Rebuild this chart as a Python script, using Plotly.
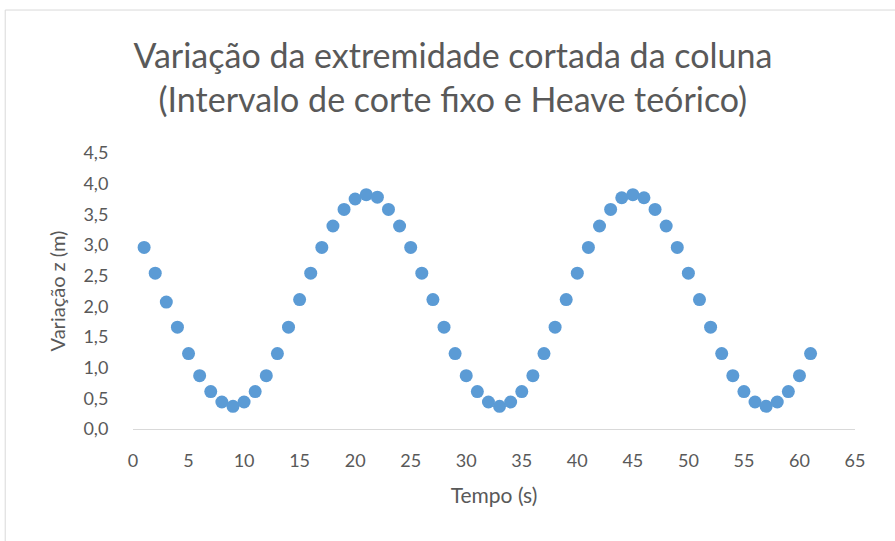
import plotly.graph_objects as go

# Tempo (s) and variação z (m) of the cut end of the column
tempo = list(range(1, 62))
variacao_z = [
    2.96, 2.54, 2.07, 1.66, 1.23, 0.87, 0.61, 0.44, 0.37, 0.44,
    0.61, 0.87, 1.23, 1.66, 2.11, 2.54, 2.96, 3.31, 3.58, 3.75,
    3.82, 3.78, 3.58, 3.31, 2.96, 2.54, 2.11, 1.66, 1.23, 0.87,
    0.61, 0.44, 0.37, 0.44, 0.61, 0.87, 1.23, 1.66, 2.11, 2.54,
    2.96, 3.31, 3.58, 3.77, 3.82, 3.77, 3.58, 3.31, 2.96, 2.54,
    2.11, 1.66, 1.23, 0.87, 0.61, 0.44, 0.37, 0.44, 0.61, 0.87,
    1.23,
]

titulo = "Variação da extremidade cortada da coluna<br>(Intervalo de corte fixo e Heave teórico)"
titulo_x = "Tempo (s)"
titulo_y = "Variação z (m)"

FONT = "Lato"
GRAY = "#595959"

fig = go.Figure(
    go.Scatter(
        x=tempo,
        y=variacao_z,
        mode="markers",
        marker=dict(color="#5B9BD5", size=13, line=dict(width=0)),
        hoverinfo="x+y",
    )
)

fig.update_layout(
    width=895,
    height=541,
    paper_bgcolor="white",
    plot_bgcolor="white",
    separators=",.",
    showlegend=False,
    margin=dict(l=133, r=40, t=153, b=112),
    title=dict(
        text=titulo,
        x=0.506,
        xanchor="center",
        y=0.874,
        yanchor="middle",
        font=dict(family=FONT, size=34, color=GRAY),
    ),
    font=dict(family=FONT, color=GRAY),
    shapes=[
        dict(
            type="rect",
            xref="paper",
            yref="paper",
            x0=-0.177,
            x1=1.2,
            y0=-0.6,
            y1=1.518,
            line=dict(color="#D9D9D9", width=1),
            fillcolor="rgba(0,0,0,0)",
            layer="below",
        )
    ],
)

fig.update_xaxes(
    range=[0, 65],
    tick0=0,
    dtick=5,
    showgrid=False,
    zeroline=False,
    showline=True,
    linecolor="#D9D9D9",
    linewidth=1,
    ticks="outside",
    ticklen=15,
    tickcolor="rgba(0,0,0,0)",
    tickfont=dict(family=FONT, size=18, color=GRAY),
    title=dict(text=titulo_x, font=dict(family=FONT, size=21, color=GRAY), standoff=18),
)

fig.update_yaxes(
    range=[0, 4.5],
    tick0=0,
    dtick=0.5,
    tickformat=".1f",
    showgrid=False,
    zeroline=False,
    showline=False,
    ticks="outside",
    ticklen=20,
    tickcolor="rgba(0,0,0,0)",
    tickfont=dict(family=FONT, size=18, color=GRAY),
    title=dict(text=titulo_y, font=dict(family=FONT, size=20, color=GRAY), standoff=12),
)

fig.write_html("out.html")
